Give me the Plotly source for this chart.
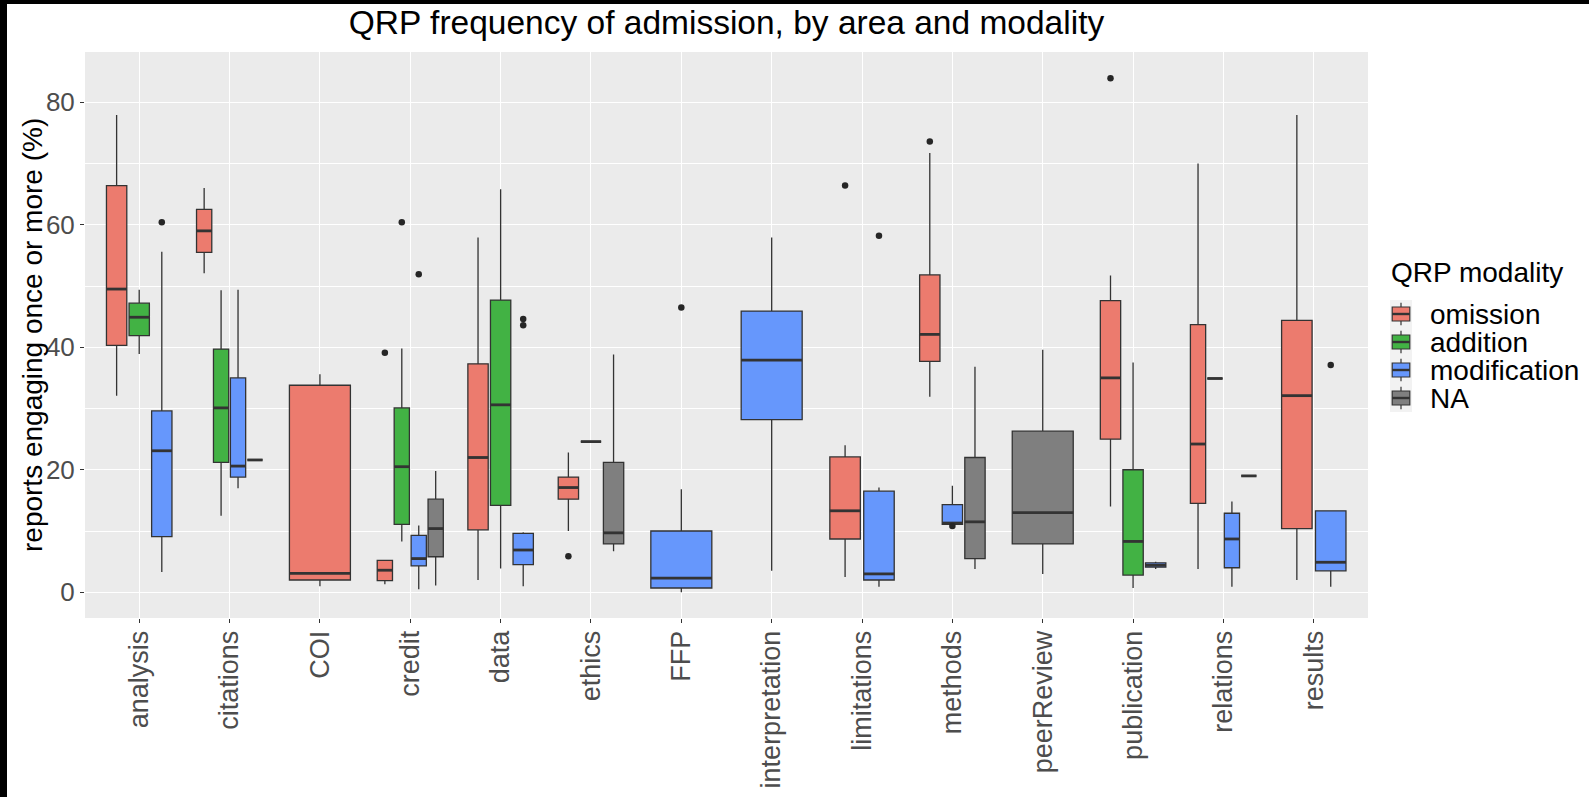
import plotly.graph_objects as go

# ---------------- data ----------------
categories = ["analysis", "citations", "COI", "credit", "data", "ethics", "FFP",
              "interpretation", "limitations", "methods", "peerReview",
              "publication", "relations", "results"]
modalities = ["omission", "addition", "modification", "NA"]

#                 anal  cita  COI   cred  data  ethi  FFP   intp  limi  meth  peer  publ  rela  resu
omission_lo  = [32.1, 52.1, 1.0,  1.3,  2.0,  10.0, None, None, 2.5,  31.9, None, 14.0, 3.8,  2.0]
omission_q1  = [40.3, 55.5, 2.0,  1.9,  10.2, 15.2, None, None, 8.7,  37.7, None, 25.0, 14.5, 10.4]
omission_med = [49.5, 59.0, 3.1,  3.6,  22.0, 17.1, None, None, 13.3, 42.1, None, 35.0, 24.2, 32.1]
omission_q3  = [66.4, 62.5, 33.8, 5.2,  37.3, 18.8, None, None, 22.1, 51.8, None, 47.6, 43.7, 44.4]
omission_hi  = [77.9, 66.0, 35.6, 5.2,  57.9, 22.8, None, None, 24.0, 71.7, None, 51.7, 70.0, 77.9]

addition_lo  = [38.9, 12.5, None, 8.3,  3.9,  24.6, None, None, None, None, None, 0.7,  34.9, None]
addition_q1  = [41.9, 21.2, None, 11.1, 14.2, 24.6, None, None, None, None, None, 2.8,  34.9, None]
addition_med = [44.9, 30.1, None, 20.5, 30.6, 24.6, None, None, None, None, None, 8.3,  34.9, None]
addition_q3  = [47.2, 39.7, None, 30.1, 47.7, 24.6, None, None, None, None, None, 20.0, 34.9, None]
addition_hi  = [49.4, 49.3, None, 39.8, 65.8, 24.6, None, None, None, None, None, 37.5, 34.9, None]

modification_lo  = [3.3,  17.0, None, 0.5,  1.0, None, 0.0,  3.5,  0.9,  11.1, None, 3.8, 0.9,  0.9]
modification_q1  = [9.1,  18.8, None, 4.3,  4.5, None, 0.7,  28.2, 2.0,  11.1, None, 4.1, 4.0,  3.5]
modification_med = [23.1, 20.6, None, 5.5,  6.9, None, 2.3,  37.9, 3.0,  11.3, None, 4.4, 8.7,  4.9]
modification_q3  = [29.6, 35.0, None, 9.3,  9.6, None, 10.0, 45.9, 16.5, 14.3, None, 4.8, 12.9, 13.3]
modification_hi  = [55.6, 49.4, None, 10.9, 9.8, None, 16.8, 57.9, 17.1, 17.4, None, 5.0, 14.8, 13.3]

na_lo  = [None, 21.6, None, 1.1,  None, 6.7,  None, None, None, 3.8,  3.0,  None, 19.0, None]
na_q1  = [None, 21.6, None, 5.8,  None, 7.9,  None, None, None, 5.5,  7.9,  None, 19.0, None]
na_med = [None, 21.6, None, 10.4, None, 9.7,  None, None, None, 11.5, 13.0, None, 19.0, None]
na_q3  = [None, 21.6, None, 15.2, None, 21.2, None, None, None, 22.0, 26.3, None, 19.0, None]
na_hi  = [None, 21.6, None, 19.8, None, 38.8, None, None, None, 36.8, 39.6, None, 19.0, None]

omission_out_cat = ["credit", "ethics", "limitations", "methods", "publication"]
omission_out_val = [39.1, 5.9, 66.4, 73.6, 83.9]
addition_out_cat = ["credit"]
addition_out_val = [60.4]
modification_out_cat = ["analysis", "credit", "data", "data", "FFP", "limitations", "methods", "results"]
modification_out_val = [60.4, 51.9, 44.6, 43.6, 46.5, 58.2, 10.8, 37.1]
na_out_cat = []
na_out_val = []

y_ticks = [0, 20, 40, 60, 80]

# ---------------- styling ----------------
fills = {"omission": "#EC7B6E", "addition": "#42B244", "modification": "#6697FC", "NA": "#7F7F7F"}
EDGE = "#333333"
FONT = "Liberation Sans"

stats = {
    "omission": (omission_lo, omission_q1, omission_med, omission_q3, omission_hi),
    "addition": (addition_lo, addition_q1, addition_med, addition_q3, addition_hi),
    "modification": (modification_lo, modification_q1, modification_med, modification_q3, modification_hi),
    "NA": (na_lo, na_q1, na_med, na_q3, na_hi),
}
outliers = {
    "omission": (omission_out_cat, omission_out_val),
    "addition": (addition_out_cat, addition_out_val),
    "modification": (modification_out_cat, modification_out_val),
    "NA": (na_out_cat, na_out_val),
}

# ggplot-like dodge2: total width 0.75 split among present groups, padding 0.1
TOTAL_W = 0.75
positions = {}  # (modality, cat index) -> (center, width)
for i, cat in enumerate(categories):
    present = [m for m in modalities if stats[m][2][i] is not None]
    n = len(present)
    for k, m in enumerate(present):
        center = (i + 1) - TOTAL_W / 2 + (k + 0.5) * TOTAL_W / n
        positions[(m, i)] = (center, TOTAL_W / n * 0.9)

fig = go.Figure()

for m in modalities:
    lo, q1, med, q3, hi = stats[m]
    mx, my = [], []
    for i in range(len(categories)):
        if med[i] is None:
            continue
        c, w = positions[(m, i)]
        fig.add_trace(go.Box(
            x=[c], q1=[q1[i]], median=[med[i]], q3=[q3[i]],
            lowerfence=[lo[i]], upperfence=[hi[i]],
            width=w, whiskerwidth=0, boxpoints=False,
            fillcolor=fills[m], line=dict(color=EDGE, width=1.3),
            name=m, legendgroup=m, showlegend=False,
        ))
        mx += [c - w / 2, c + w / 2, None]
        my += [med[i], med[i], None]
    # thicker median line (ggplot fatten)
    fig.add_trace(go.Scatter(x=mx, y=my, mode="lines", line=dict(color=EDGE, width=2.8),
                             showlegend=False, hoverinfo="skip"))
    ocat, oval = outliers[m]
    if ocat:
        ox = [positions[(m, categories.index(c_))][0] for c_ in ocat]
        fig.add_trace(go.Scatter(x=ox, y=oval, mode="markers",
                                 marker=dict(color="#262626", size=6.5),
                                 showlegend=False, hoverinfo="skip"))

# ---------------- layout ----------------
W, H = 1589, 797
L, R, T, B = 85, 221, 52, 179
pw, ph = W - L - R, H - T - B


def px2x(px):
    return (px - L) / pw


def py2y(py):
    return (H - B - py) / ph


fig.update_layout(
    width=W, height=H,
    margin=dict(l=L, r=R, t=T, b=B, pad=0, autoexpand=False),
    paper_bgcolor="white", plot_bgcolor="#EBEBEB",
    boxmode="overlay", showlegend=False,
    font=dict(family=FONT, color="black"),
    title=dict(text="QRP frequency of admission, by area and modality",
               x=0.5, xref="paper", xanchor="center",
               y=1 - 22.5 / H, yref="container", yanchor="middle",
               font=dict(size=33.5, color="black", family=FONT)),
    xaxis=dict(range=[0.4, 14.6], tickmode="array", automargin=False,
               tickvals=list(range(1, len(categories) + 1)), ticktext=categories,
               tickangle=-90, tickfont=dict(size=27, color="#4D4D4D", family=FONT),
               ticklabelstandoff=-3,
               ticks="outside", ticklen=4, tickwidth=1.2, tickcolor=EDGE,
               showgrid=True, gridcolor="white", gridwidth=1.4,
               zeroline=False, showline=False),
    yaxis=dict(range=[-4.2, 88.2], tickmode="array", tickvals=y_ticks, automargin=False,
               tickfont=dict(size=26, color="#4D4D4D", family=FONT),
               ticks="outside", ticklen=4, tickwidth=1.2, tickcolor=EDGE,
               showgrid=True, gridcolor="white", gridwidth=1.4,
               minor=dict(dtick=10, tick0=0, showgrid=True, gridcolor="white", gridwidth=0.7),
               zeroline=False, showline=False),
)

shapes = []
annotations = []

# y-axis title
annotations.append(dict(text="reports engaging once or more (%)", xref="paper", yref="paper",
                        x=px2x(32), y=0.5, xanchor="center", yanchor="middle", textangle=-90,
                        showarrow=False, font=dict(size=28, color="black", family=FONT)))

# black strips along top and left edges of the picture
shapes.append(dict(type="rect", xref="paper", yref="paper",
                   x0=px2x(0), x1=px2x(7), y0=py2y(H), y1=py2y(0),
                   fillcolor="black", line=dict(width=0), layer="above"))
shapes.append(dict(type="rect", xref="paper", yref="paper",
                   x0=px2x(0), x1=px2x(W), y0=py2y(4), y1=py2y(0),
                   fillcolor="black", line=dict(width=0), layer="above"))

# manual ggplot-style legend
annotations.append(dict(text="QRP modality", xref="paper", yref="paper",
                        x=px2x(1389), y=py2y(272), xanchor="left", yanchor="middle",
                        showarrow=False, font=dict(size=28, color="black", family=FONT)))
key_top, key_h, key_x0, key_x1 = 300, 28, 1390, 1412
shapes.append(dict(type="rect", xref="paper", yref="paper",
                   x0=px2x(key_x0), x1=px2x(key_x1),
                   y0=py2y(key_top + key_h * len(modalities)), y1=py2y(key_top),
                   fillcolor="#F2F2F2", line=dict(width=0), layer="above"))
for j, m in enumerate(modalities):
    t0 = key_top + j * key_h
    cx = (key_x0 + key_x1) / 2
    kw = key_x1 - key_x0
    shapes.append(dict(type="line", xref="paper", yref="paper",
                       x0=px2x(cx), x1=px2x(cx), y0=py2y(t0 + 0.1 * key_h), y1=py2y(t0 + 0.9 * key_h),
                       line=dict(color=EDGE, width=1.2), layer="above"))
    shapes.append(dict(type="rect", xref="paper", yref="paper",
                       x0=px2x(key_x0 + 0.1 * kw), x1=px2x(key_x1 - 0.1 * kw),
                       y0=py2y(t0 + 0.75 * key_h), y1=py2y(t0 + 0.25 * key_h),
                       fillcolor=fills[m], line=dict(color=EDGE, width=1.2), layer="above"))
    shapes.append(dict(type="line", xref="paper", yref="paper",
                       x0=px2x(key_x0 + 0.1 * kw), x1=px2x(key_x1 - 0.1 * kw),
                       y0=py2y(t0 + 0.5 * key_h), y1=py2y(t0 + 0.5 * key_h),
                       line=dict(color=EDGE, width=2.4), layer="above"))
    annotations.append(dict(text=m, xref="paper", yref="paper",
                            x=px2x(1428), y=py2y(t0 + key_h / 2), xanchor="left", yanchor="middle",
                            showarrow=False, font=dict(size=28, color="black", family=FONT)))

fig.update_layout(shapes=shapes, annotations=annotations)

page_css = (
    "var de=document.documentElement, b=document.body;"
    "de.style.margin='0';de.style.padding='0';de.style.overflow='hidden';"
    "b.style.margin='0';b.style.padding='0';b.style.overflow='hidden';"
)
fig.write_html("out.html", config={"displayModeBar": False}, post_script=page_css)
